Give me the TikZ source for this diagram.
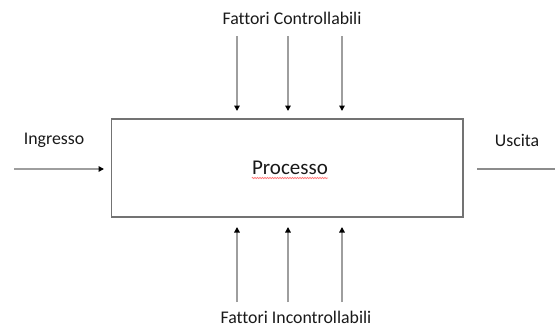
\documentclass[tikz,border=0pt]{standalone}
\usepackage{fontspec}
\setmainfont{Carlito}[Ligatures=NoCommon]
\usetikzlibrary{arrows.meta,decorations.pathmorphing}
\begin{document}
\begin{tikzpicture}[x=1pt,y=-1pt,
  lbl/.style={inner sep=0pt,font=\fontsize{17.8}{20}\selectfont,text=black!90},
  flow/.style={draw=black!38,line width=1.6pt,-{Triangle[width=5.5pt,length=5.5pt,black]}},
  plain/.style={draw=black!45,line width=1.5pt},
  procbox/.style={draw=black!55,line width=1.8pt,fill=white}]
\useasboundingbox (0,0) rectangle (555,327);
% process block
\draw[procbox] (111.5,119) rectangle (463,217);
\node[inner sep=0pt,font=\fontsize{21}{24}\selectfont,text=black!90] (proc) at (290,168) {Processo};
\draw[red!55,line width=0.7pt,decorate,decoration={zigzag,amplitude=0.6pt,segment length=2.5pt}]
  ([yshift=-3pt]proc.south west) -- ([yshift=-3pt]proc.south east);
% labels
\node[lbl] (ctrl) at (292,18) {Fattori Controllabili};
\node[lbl] (unctrl) at (296,317) {Fattori Incontrollabili};
\node[lbl] (in) at (54,140) {Ingresso};
\node[lbl] (out) at (517,140) {Uscita};
% input and output
\coordinate (inS) at (14,169);
\coordinate (inE) at (104,169);
\coordinate (outS) at (477,169);
\coordinate (outE) at (555,169);
\draw[flow] (inS) -- (inE);
\draw[plain] (outS) -- (outE);
% controllable factors
\foreach \i/\x in {1/237,2/288,3/342}{
  \coordinate (c\i s) at (\x,36);
  \coordinate (c\i e) at (\x,111);
  \draw[flow] (c\i s) -- (c\i e);
}
% uncontrollable factors
\foreach \i/\x in {1/237,2/288,3/342}{
  \coordinate (u\i s) at (\x,302);
  \coordinate (u\i e) at (\x,227);
  \draw[flow] (u\i s) -- (u\i e);
}
\end{tikzpicture}
\end{document}
